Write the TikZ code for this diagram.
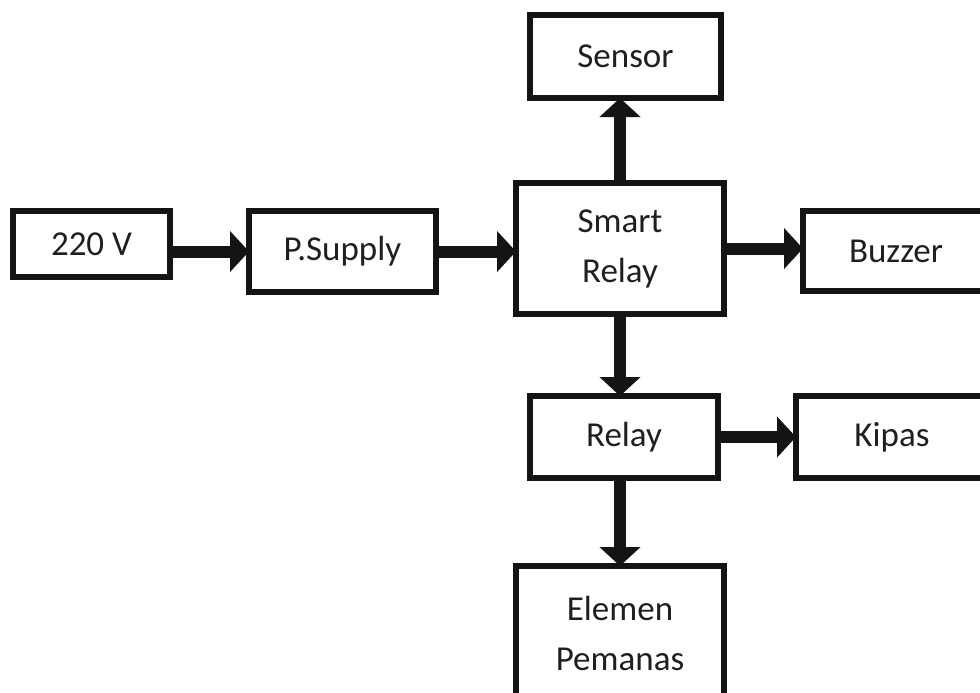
\documentclass[tikz,border=0pt]{standalone}
\usepackage{fontspec}
\setmainfont{Carlito}
\usetikzlibrary{arrows.meta}

\begin{document}
\begin{tikzpicture}[x=0.5pt, y=-0.5pt,
  block/.style={draw=black!92, line width=2.7pt, outer sep=0pt, inner sep=0pt,
    align=center, text=black!88, font=\fontsize{17.5}{25}\selectfont},
  flow/.style={draw=black!92, line width=6pt,
    -{Triangle[length=9.5pt, width=20pt]}}]

% Canvas
\useasboundingbox (0,0) rectangle (980,692);

% Blocks (sizes in pt, centres in px)
\node[block, minimum width=78.5pt, minimum height=33pt] (mains) at (91.5,244) {220 V};
\node[block, minimum width=93.5pt, minimum height=40.5pt] (psu) at (342.5,251.5) {P.Supply};
\node[block, minimum width=104pt, minimum height=65.5pt] (smart) at (620,248.5) {Smart\\Relay};
\node[block, minimum width=95.5pt, minimum height=41.5pt] (sensor) at (625.5,56.5) {Sensor};
\node[block, minimum width=93pt, minimum height=40pt] (buzzer) at (896,251) {Buzzer};
\node[block, minimum width=94pt, minimum height=41pt] (relay) at (624,437) {Relay};
\node[block, minimum width=96pt, minimum height=41pt] (kipas) at (892,437) {Kipas};
\node[block, minimum width=104pt, minimum height=67pt, anchor=north] (heater) at (620,566)
  {Elemen\\Pemanas};

% Connections
\draw[flow] (mains.east |- psu.west) -- (psu.west);
\draw[flow] (psu.east) -- (psu.east -| smart.west);
\draw[flow] (smart.north) -- (smart.north |- sensor.south);
\draw[flow] (smart.east) -- (smart.east -| buzzer.west);
\draw[flow] (smart.south) -- (smart.south |- relay.north);
\draw[flow] (relay.east) -- (relay.east -| kipas.west);
\draw[flow] (heater.north |- relay.south) -- (heater.north);

\end{tikzpicture}
\end{document}
